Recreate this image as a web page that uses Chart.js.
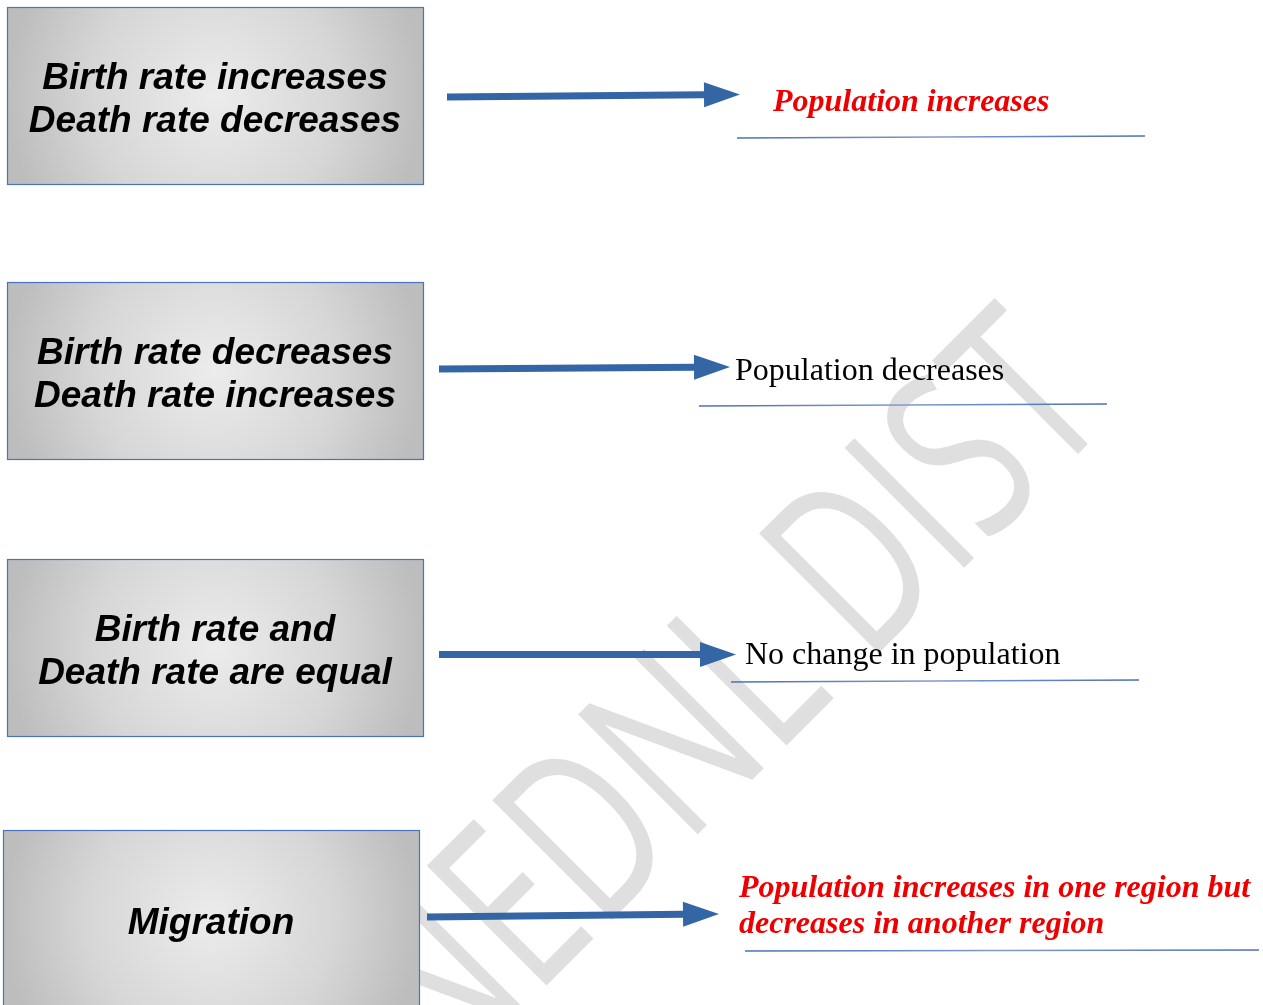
<!DOCTYPE html>
<html>
<head>
<meta charset="utf-8">
<title>Population change</title>
<script src="https://cdn.jsdelivr.net/npm/chart.js@4.4.1/dist/chart.umd.min.js"></script>
<style>
    html, body { margin: 0; padding: 0; background: #ffffff; }
    #wrap { width: 1263px; height: 1005px; }
</style>
</head>
<body>
<div id="wrap"><canvas id="chartJS1" width="1263" height="1005"></canvas></div>
<script>
// causes (grey boxes on the left)
var causeLabels = [
    ['Birth rate increases', 'Death rate decreases'],
    ['Birth rate decreases', 'Death rate increases'],
    ['Birth rate and', 'Death rate are equal'],
    ['Migration']
];
// effects (text to the right of the arrows)
var effectLabels = [
    ['Population increases'],
    ['Population decreases'],
    ['No change in population'],
    ['Population increases in one region but', 'decreases in another region']
];
var effectHighlighted = [true, false, false, true];
var watermarkPrefix = 'N';
var watermarkText = 'EDNL DIST';

// layout, in page pixels (x 0..1263, y 0..1005 from the top)
var boxLeft = [7, 7, 7, 3];
var boxTop = [7, 282, 559, 830];
var boxW = 416, boxH = 177;
var arrowFrom = [[447, 97], [439, 369], [439, 654.5], [427, 917]];
var arrowTip = [[740, 94.5], [730, 367], [736, 654.5], [719, 914]];
var headLen = 36, headHalf = 12.5;
var effectX = [773, 735, 745, 739];
var effectBaseline = [111, 380, 664, 897];
var ruleFrom = [[737, 138], [699, 406], [731, 682], [745, 951]];
var ruleTo = [[1145, 136], [1107, 404], [1139, 680], [1259, 950]];
// watermark: stem of first "E" and stem of last "T" sit on this baseline (x + y = 1532)
var wmFirstStem = [553, 979];
var wmLastStem = [1083, 449];

var arrowColor = '#3465a4';

'use strict'

// one line dataset per arrow shaft, ending where the head starts
var shaftSets = [];
for (var i = 0; i < arrowFrom.length; i++) {
    var a = arrowFrom[i], b = arrowTip[i];
    var len = Math.hypot(b[0] - a[0], b[1] - a[1]);
    var k = (len - headLen + 1) / len;
    shaftSets.push({
        type: 'line',
        data: [{ x: a[0], y: a[1] }, { x: a[0] + (b[0] - a[0]) * k, y: a[1] + (b[1] - a[1]) * k }],
        borderColor: arrowColor,
        borderWidth: 7,
        borderCapStyle: 'butt',
        pointRadius: 0,
        fill: false,
        clip: false
    });
}

var diagramPlugin = {
    id: 'diagram',
    beforeDatasetsDraw: function (chart) {
        var ctx = chart.ctx;
        var xs = chart.scales.x, ys = chart.scales.y;
        function px(v) { return xs.getPixelForValue(v); }
        function py(v) { return ys.getPixelForValue(v); }

        // watermark (condensed grey text at -45deg)
        ctx.save();
        ctx.font = '500 237px "Open Sans"';
        var mE = ctx.measureText('E');
        var stemE = -mE.actualBoundingBoxLeft + 0.055 * 237;
        var stemT = ctx.measureText(watermarkText.slice(0, -1)).width + ctx.measureText('T').width / 2;
        var fx = px(wmFirstStem[0]), fy = py(wmFirstStem[1]);
        var lx = px(wmLastStem[0]), ly = py(wmLastStem[1]);
        var dist = Math.hypot(lx - fx, ly - fy);
        var sx = dist / (stemT - stemE);
        ctx.translate(fx, fy);
        ctx.rotate(Math.atan2(ly - fy, lx - fx));
        ctx.scale(sx, 1);
        ctx.fillStyle = '#dfdfdf';
        ctx.textBaseline = 'alphabetic';
        ctx.textAlign = 'left';
        var pre = ctx.measureText(watermarkPrefix).width;
        ctx.fillText(watermarkPrefix + watermarkText, -stemE - pre, 0);
        ctx.restore();

        // boxes
        for (var i = 0; i < causeLabels.length; i++) {
            var x0 = px(boxLeft[i]), y0 = py(boxTop[i]);
            var x1 = px(boxLeft[i] + boxW), y1 = py(boxTop[i] + boxH);
            var cx = (x0 + x1) / 2, cy = (y0 + y1) / 2;
            var g = ctx.createRadialGradient(cx, cy, 0, cx, cy, (x1 - x0) / 2);
            g.addColorStop(0, '#ececec');
            g.addColorStop(0.6, '#d6d6d6');
            g.addColorStop(1, '#bdbdbd');
            ctx.save();
            ctx.fillStyle = g;
            ctx.fillRect(x0, y0, x1 - x0, y1 - y0);
            ctx.strokeStyle = '#4a72bd';
            ctx.lineWidth = 1.2;
            ctx.strokeRect(x0 + 0.5, y0 + 0.5, x1 - x0, y1 - y0);

            ctx.font = 'italic bold 37px "Liberation Sans"';
            ctx.fillStyle = '#000000';
            ctx.textAlign = 'center';
            ctx.textBaseline = 'alphabetic';
            var lines = causeLabels[i];
            var mid = cy + 2;
            for (var j = 0; j < lines.length; j++) {
                var capMid = mid + (j - (lines.length - 1) / 2) * 43;
                ctx.fillText(lines[j], cx, capMid + 13);
            }
            ctx.restore();
        }
    },
    afterDatasetsDraw: function (chart) {
        var ctx = chart.ctx;
        var xs = chart.scales.x, ys = chart.scales.y;
        function px(v) { return xs.getPixelForValue(v); }
        function py(v) { return ys.getPixelForValue(v); }

        // arrow heads
        for (var i = 0; i < arrowTip.length; i++) {
            var a = arrowFrom[i], b = arrowTip[i];
            var ang = Math.atan2(py(b[1]) - py(a[1]), px(b[0]) - px(a[0]));
            ctx.save();
            ctx.translate(px(b[0]), py(b[1]));
            ctx.rotate(ang);
            ctx.beginPath();
            ctx.moveTo(0, 0);
            ctx.lineTo(-headLen, -headHalf);
            ctx.lineTo(-headLen, headHalf);
            ctx.closePath();
            ctx.fillStyle = arrowColor;
            ctx.fill();
            ctx.restore();
        }

        // effect texts
        for (var i = 0; i < effectLabels.length; i++) {
            ctx.save();
            if (effectHighlighted[i]) {
                ctx.font = 'italic bold 32px "Liberation Serif"';
                ctx.fillStyle = '#ee0000';
            } else {
                ctx.font = '32px "Liberation Serif"';
                ctx.fillStyle = '#000000';
            }
            ctx.textAlign = 'left';
            ctx.textBaseline = 'alphabetic';
            for (var j = 0; j < effectLabels[i].length; j++) {
                ctx.fillText(effectLabels[i][j], px(effectX[i]), py(effectBaseline[i] + j * 36));
            }
            ctx.restore();

            // thin rule under each effect
            ctx.save();
            var r0 = ruleFrom[i], r1 = ruleTo[i];
            var lg = ctx.createLinearGradient(px(r0[0]), 0, px(r1[0]), 0);
            lg.addColorStop(0, '#4a70b0');
            lg.addColorStop(0.5, '#7f9bcb');
            lg.addColorStop(1, '#4a70b0');
            ctx.strokeStyle = lg;
            ctx.lineWidth = 1.5;
            ctx.beginPath();
            ctx.moveTo(px(r0[0]), py(r0[1]));
            ctx.lineTo(px(r1[0]), py(r1[1]));
            ctx.stroke();
            ctx.restore();
        }
    }
};

var ctx1 = document.getElementById('chartJS1').getContext('2d');
var chart1 = new Chart(ctx1, {
    type: 'line',
    data: {
        datasets: shaftSets
    },
    options: {
        responsive: false,
        animation: false,
        layout: { padding: 0 },
        plugins: {
            legend: { display: false },
            tooltip: { enabled: false }
        },
        scales: {
            x: { type: 'linear', min: 0, max: 1263, display: false },
            y: { type: 'linear', min: 0, max: 1005, reverse: true, display: false }
        }
    },
    plugins: [diagramPlugin]
});
</script>
</body>
</html>
